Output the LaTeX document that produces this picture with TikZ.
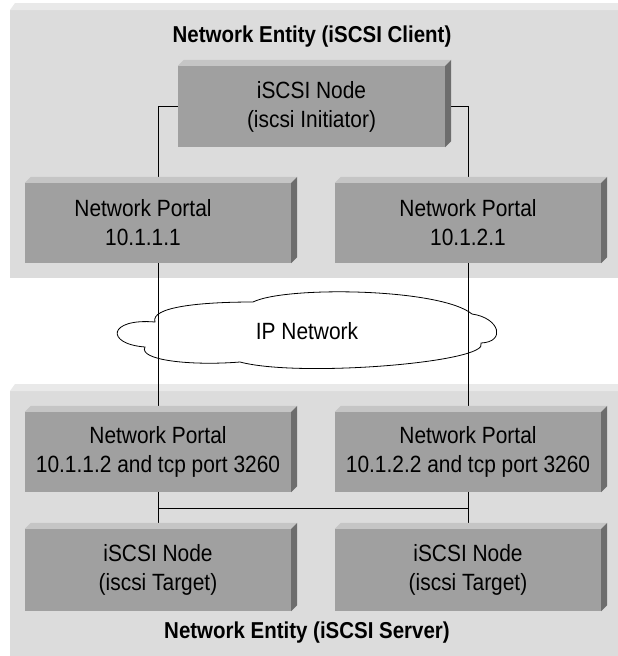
\documentclass[tikz,border=0pt]{standalone}
\usepackage{fontspec}
\setmainfont{Liberation Sans}[FakeStretch=0.89]
\usepackage{tikz}
\usetikzlibrary{positioning}
\pgfdeclarelayer{back}
\pgfsetlayers{back,main}
\definecolor{entityfront}{HTML}{DCDCDC}
\definecolor{entitytop}{HTML}{E9E9E9}
\definecolor{boxfront}{HTML}{A0A0A0}
\definecolor{boxtop}{HTML}{C5C5C5}
\definecolor{boxside}{HTML}{6D6D6D}

% top and side faces of a raised box
\newcommand{\boxfaces}[1]{%
	\fill[topface] (#1.north west) -- ++(6,-6) -- ([shift={(6,-6)}]#1.north east) -- (#1.north east) -- cycle;
	\fill[sideface] (#1.north east) -- ++(6,-6) -- ([shift={(6,-6)}]#1.south east) -- (#1.south east) -- cycle;}

\begin{document}
\begin{tikzpicture}
	[x=1pt, y=-1pt, font=\fontsize{23.5}{29}\selectfont,
	box/.style	= {rectangle, fill=boxfront, inner sep=0pt, align=center, minimum width=266pt, minimum height=80pt},
	topface/.style	= {fill=boxtop},
	sideface/.style	= {fill=boxside},
	entity/.style	= {fill=entityfront},
	entitylid/.style	= {fill=entitytop},
	title/.style	= {font=\fontsize{23}{29}\selectfont\bfseries},
	link/.style	= {draw, line width=0.9pt}]
	
	\useasboundingbox (0,0) rectangle (618,656);
	
	\node at (311.5, 106.5)	[box, minimum width=267pt, minimum height=81pt]	(init)	{iSCSI Node\\(iscsi Initiator)};
	\node at (158, 223)		[box]	(pa)	{\hspace*{-30pt}Network Portal\\\hspace*{-30pt}10.1.1.1};
	\node at (468, 223)		[box]	(pb)	{Network Portal\\10.1.2.1};
	\node at (158, 452)		[box]	(pc)	{Network Portal\\10.1.1.2 and tcp port 3260};
	\node at (468, 452)		[box]	(pd)	{Network Portal\\10.1.2.2 and tcp port 3260};
	\node at (158, 570)		[box, minimum height=82pt]	(ta)	{iSCSI Node\\(iscsi Target)};
	\node at (468, 570)		[box, minimum height=82pt]	(tb)	{iSCSI Node\\(iscsi Target)};
	\node at (307, 331)		(net)	{IP Network};
	\node at (312, 37)		[title]	(client)	{Network Entity (iSCSI Client)};
	\node at (307, 633)		[title]	(server)	{Network Entity (iSCSI Server)};
	
	\boxfaces{init}
	\boxfaces{pa}
	\boxfaces{pb}
	\boxfaces{pc}
	\boxfaces{pd}
	\boxfaces{ta}
	\boxfaces{tb}
	
	\begin{pgfonlayer}{back}
	\fill[entity] (10,10) rectangle (618,278);
	\fill[entitylid] (10,10) -- (15,3) -- (618,3) -- (618,10) -- cycle;
	\fill[entity] (10,391) rectangle (618,656);
	\fill[entitylid] (10,391) -- (15,384) -- (618,384) -- (618,391) -- cycle;
	
	% cloud
	\filldraw[fill=white, line width=0.8pt] (155,322)
		.. controls (150,307) and (200,302) .. (253,302)
		.. controls (285,286) and (440,288) .. (472,314)
		.. controls (500,318) and (506,342) .. (481,343)
		.. controls (492,362) and (300,378) .. (240,362)
		.. controls (190,366) and (138,360) .. (145,347)
		.. controls (105,344) and (108,318) .. (155,322) -- cycle;
	
	\draw [link] (init.west) -| (pa.north);
	\draw [link] (init.east) -| (pb.north);
	\draw [link] (pa.south) -- (pc.north);
	\draw [link] (pb.south) -- (pd.north);
	\draw [link] (pc.south) -- (ta.north) coordinate[pos=0.45] (jl);
	\draw [link] (pd.south) -- (tb.north) coordinate[pos=0.45] (jr);
	\draw [link] (jl) -- (jr);
	\end{pgfonlayer}
	
\end{tikzpicture}
\end{document}
